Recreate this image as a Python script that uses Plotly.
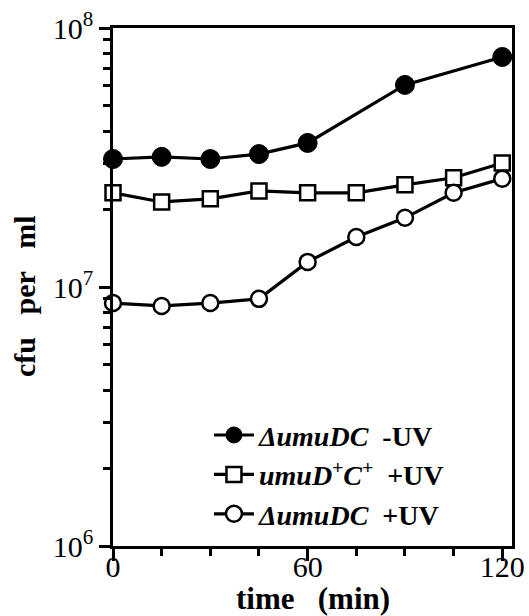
import plotly.graph_objects as go

time_filled = [0, 15, 30, 45, 60, 90, 120]
cfu_delta_noUV = [3.12e7, 3.18e7, 3.12e7, 3.26e7, 3.6e7, 6.03e7, 7.73e7]

time_square = [0, 15, 30, 45, 60, 75, 90, 105, 120]
cfu_wt_UV = [2.31e7, 2.13e7, 2.19e7, 2.35e7, 2.31e7, 2.31e7, 2.48e7, 2.64e7, 3.01e7]

time_open = [0, 15, 30, 45, 60, 75, 90, 105, 120]
cfu_delta_UV = [8.67e6, 8.45e6, 8.67e6, 9.0e6, 1.25e7, 1.56e7, 1.85e7, 2.31e7, 2.62e7]

names = [
    "<b><i>ΔumuDC</i>\u00a0\u00a0-UV</b>",
    "<b><i>umuD<sup>+</sup>C<sup>+</sup></i>\u00a0\u00a0+UV</b>",
    "<b><i>ΔumuDC</i>\u00a0\u00a0+UV</b>",
]

y_major = [1e6, 1e7, 1e8]
y_major_text = ["10<sup>6</sup>", "10<sup>7</sup>", "10<sup>8</sup>"]
y_minor = [m * 10 ** e for e in (6, 7) for m in range(2, 10)]
x_major = [0, 60, 120]
x_minor = [15, 30, 45, 75, 90, 105]

SERIF = "Liberation Serif, Times New Roman, serif"

fig = go.Figure()
fig.add_trace(go.Scatter(
    x=time_filled, y=cfu_delta_noUV, mode="lines+markers", name=names[0],
    line=dict(color="black", width=3.2),
    marker=dict(symbol="circle", size=19, color="black", line=dict(color="black", width=1)),
    cliponaxis=False,
))
fig.add_trace(go.Scatter(
    x=time_square, y=cfu_wt_UV, mode="lines+markers", name=names[1],
    line=dict(color="black", width=3.2),
    marker=dict(symbol="square", size=15, color="white", line=dict(color="black", width=2.5)),
    cliponaxis=False,
))
fig.add_trace(go.Scatter(
    x=time_open, y=cfu_delta_UV, mode="lines+markers", name=names[2],
    line=dict(color="black", width=3.2),
    marker=dict(symbol="circle", size=16, color="white", line=dict(color="black", width=2.5)),
    cliponaxis=False,
))

fig.update_layout(
    width=529, height=616,
    margin=dict(l=113, r=17, t=28, b=70, autoexpand=False),
    paper_bgcolor="white", plot_bgcolor="white",
    font=dict(family=SERIF, color="black", size=30),
    showlegend=True,
    legend=dict(
        x=0.2405, y=0.262, xanchor="left", yanchor="top",
        bgcolor="rgba(0,0,0,0)", borderwidth=0,
        font=dict(family=SERIF, size=28, color="black"),
        tracegroupgap=0, itemwidth=40,
    ),
    xaxis=dict(
        range=[0, 123], showgrid=False, zeroline=False, automargin=False,
        showline=True, mirror=True, linecolor="black", linewidth=2.5,
        tickmode="array", tickvals=x_major, ticktext=[str(v) for v in x_major],
        ticks="outside", ticklen=12, tickwidth=2.5, tickcolor="black",
        ticklabelstandoff=-20,
        tickfont=dict(family=SERIF, size=30, color="black"),
        minor=dict(tickmode="array", tickvals=x_minor, ticks="outside", ticklen=7,
                   tickwidth=2.5, tickcolor="black", showgrid=False),
    ),
    yaxis=dict(
        type="log", range=[6, 8], showgrid=False, zeroline=False, automargin=False,
        showline=True, mirror=True, linecolor="black", linewidth=2.5,
        tickmode="array", tickvals=y_major, ticktext=y_major_text,
        ticks="outside", ticklen=11, tickwidth=2.5, tickcolor="black",
        tickfont=dict(family=SERIF, size=30, color="black"),
        minor=dict(tickmode="array", tickvals=y_minor, ticks="outside", ticklen=7,
                   tickwidth=2.5, tickcolor="black", showgrid=False),
    ),
    annotations=[
        dict(text="<b>time\u00a0\u00a0\u00a0(min)</b>", xref="paper", yref="paper",
             x=0.501, y=-0.1023, xanchor="center", yanchor="middle", showarrow=False,
             font=dict(family=SERIF, size=31, color="black")),
        dict(text="<b>cfu\u00a0\u00a0\u00a0per\u00a0\u00a0\u00a0ml</b>", xref="paper", yref="paper",
             x=-0.223, y=0.4826, xanchor="center", yanchor="middle", showarrow=False,
             textangle=-90, font=dict(family=SERIF, size=30, color="black")),
    ],
)

fig.write_html("out.html")
